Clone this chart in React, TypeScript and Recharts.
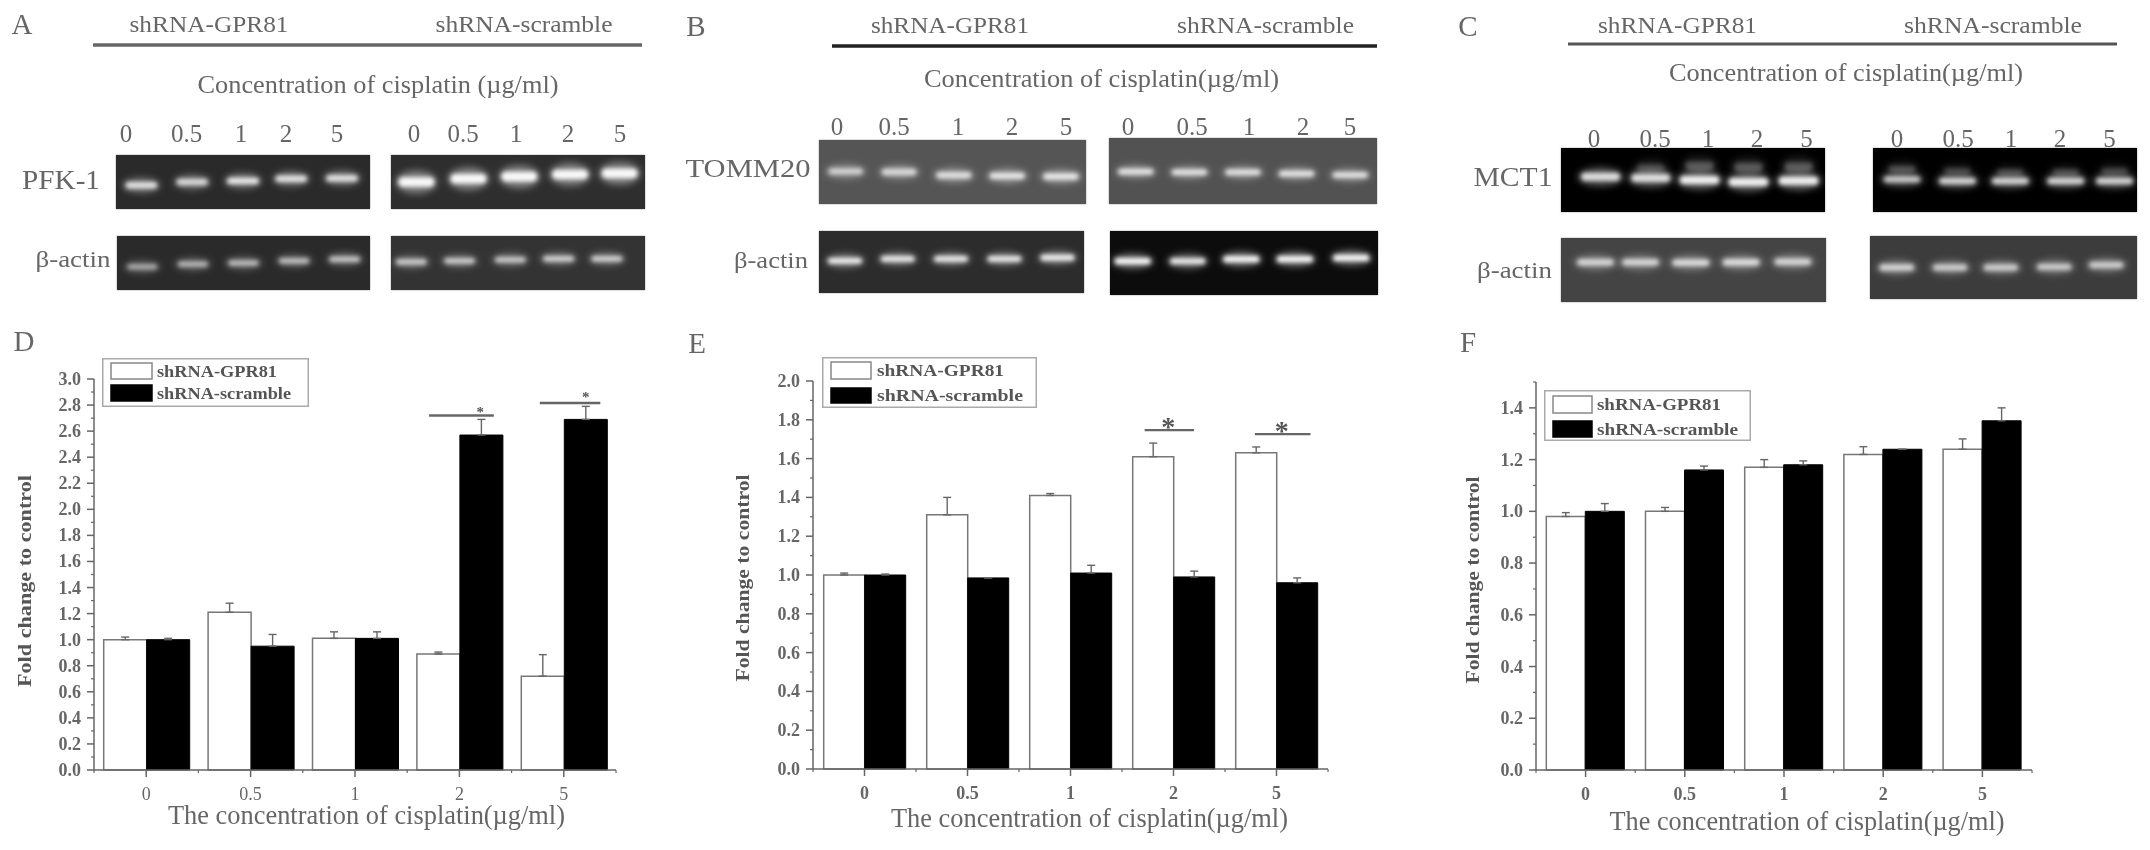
import React from "react";
import {
  BarChart, Bar, XAxis, YAxis, ErrorBar, Legend, Label, ReferenceLine, ReferenceDot,
  ScatterChart, Scatter,
} from "recharts";

const SERIF = "'Liberation Serif', serif";
const INK = "#666";

// ---------- data ----------
const categories = ["0", "0.5", "1", "2", "5"];
const SERIES_A = "shRNA-GPR81";
const SERIES_B = "shRNA-scramble";
const X_TITLE = "The concentration of cisplatin(µg/ml)";
const Y_TITLE = "Fold change to control";

const dGpr = [1.0, 1.21, 1.01, 0.89, 0.72];
const dGprErr = [0.02, 0.07, 0.05, 0.015, 0.165];
const dScr = [1.0, 0.95, 1.01, 2.57, 2.69];
const dScrErr = [0.01, 0.09, 0.05, 0.12, 0.1];
const dTicks = [0, 0.1, 0.2, 0.3, 0.4, 0.5, 0.6, 0.7, 0.8, 0.9, 1, 1.1, 1.2, 1.3, 1.4, 1.5, 1.6, 1.7, 1.8, 1.9, 2, 2.1, 2.2, 2.3, 2.4, 2.5, 2.6, 2.7, 2.8, 2.9, 3];

const eGpr = [1.0, 1.31, 1.41, 1.61, 1.63];
const eGprErr = [0.01, 0.09, 0.01, 0.07, 0.03];
const eScr = [1.0, 0.985, 1.01, 0.99, 0.96];
const eScrErr = [0.005, 0, 0.04, 0.03, 0.025];
const eTicks = [0, 0.1, 0.2, 0.3, 0.4, 0.5, 0.6, 0.7, 0.8, 0.9, 1, 1.1, 1.2, 1.3, 1.4, 1.5, 1.6, 1.7, 1.8, 1.9, 2];

const fGpr = [0.98, 1.0, 1.17, 1.22, 1.24];
const fGprErr = [0.015, 0.015, 0.03, 0.03, 0.04];
const fScr = [1.0, 1.16, 1.18, 1.24, 1.35];
const fScrErr = [0.03, 0.015, 0.015, 0, 0.05];
const fTicks = [0, 0.1, 0.2, 0.3, 0.4, 0.5, 0.6, 0.7, 0.8, 0.9, 1, 1.1, 1.2, 1.3, 1.4, 1.5];

// significance bars on a 0-5 group scale
const dSig = [{ from: 3.21, to: 3.83, y: 2.72, sx: 3.7, sy: 2.77 }, { from: 4.27, to: 4.85, y: 2.816, sx: 4.71, sy: 2.88 }];
const eSig = [{ from: 3.22, to: 3.7, y: 1.747, sx: 3.45, sy: 1.79 }, { from: 4.29, to: 4.83, y: 1.726, sx: 4.55, sy: 1.77 }];

// gel bands: lane position (% of gel width), migration (% of gel height), signal 0-1
const pfkG = { lane: [10, 30, 50, 69, 89], depth: [56, 50, 48, 44, 43], signal: [0.8, 0.75, 0.85, 0.8, 0.8] };
const pfkS = { lane: [10, 30.5, 50.5, 70.5, 90], depth: [50, 44, 40, 36, 34], signal: [0.95, 0.95, 0.95, 0.95, 0.95] };
const actAG = { lane: [10, 30, 50, 70, 90], depth: [57, 52, 50, 46, 43], signal: [0.5, 0.55, 0.6, 0.6, 0.65] };
const actAS = { lane: [8, 27, 47, 66, 85], depth: [48, 46, 44, 42, 42], signal: [0.65, 0.65, 0.65, 0.7, 0.7] };
const tomG = { lane: [10, 30, 50.5, 70.5, 90.6], depth: [49, 50, 55, 56, 57], signal: [0.65, 0.7, 0.75, 0.8, 0.8] };
const tomS = { lane: [10, 30, 50, 70, 90], depth: [51, 52, 52, 54, 56], signal: [0.8, 0.8, 0.8, 0.8, 0.8] };
const actBG = { lane: [9.8, 29.7, 49.8, 70, 90], depth: [48, 45, 45, 45, 43], signal: [0.9, 0.85, 0.85, 0.85, 0.9] };
const actBS = { lane: [8.5, 29, 49, 69, 90], depth: [47, 47, 44, 44, 42], signal: [0.95, 0.85, 0.95, 0.95, 0.95] };
const mctG = { lane: [15, 34, 52.5, 71, 90], depth: [45, 47, 50, 53, 51], signal: [0.8, 0.8, 0.9, 0.9, 0.9] };
const mctS = { lane: [11, 32, 52, 73, 91.5], depth: [49, 51.5, 51.5, 51.5, 51.5], signal: [0.7, 0.75, 0.75, 0.75, 0.75] };
const mctGFaint = { lane: [34, 52.5, 71, 90], depth: [31, 28, 30, 29], signal: [0.2, 0.3, 0.3, 0.3] };
const mctSFaint = { lane: [11, 32, 52, 73, 91.5], depth: [33, 36, 38, 38, 36], signal: [0.25, 0.2, 0.2, 0.2, 0.2] };
const actCG = { lane: [13, 30, 49, 68, 87.5], depth: [38, 38, 38.5, 38, 37], signal: [0.7, 0.7, 0.75, 0.75, 0.7] };
const actCS = { lane: [10, 30, 49, 69, 88.5], depth: [50, 50, 50, 49, 46], signal: [0.7, 0.65, 0.65, 0.65, 0.65] };

// ---------- helpers ----------
type TProps = { x: number; y: number; size: number; len?: number; bold?: boolean; anchor?: string; fill?: string; children: any; rotate?: boolean };
const T = ({ x, y, size, len, bold, anchor = "middle", fill = INK, children, rotate }: TProps) => (
  <text
    x={x}
    y={y}
    fontFamily={SERIF}
    fontSize={size}
    fontWeight={bold ? 700 : 400}
    fill={fill}
    textAnchor={anchor as any}
    dominantBaseline="central"
    textLength={len}
    lengthAdjust={len ? "spacingAndGlyphs" : undefined}
    transform={rotate ? `rotate(-90 ${x} ${y})` : undefined}
  >
    {children}
  </text>
);

const bandShape = (rx: number, ry: number, core: string) => (p: any) => {
  const s = p.payload.signal;
  const coreW = rx * (0.8 + s * 0.15);
  const coreH = ry * 0.8;
  return (
    <g>
      <ellipse cx={p.cx} cy={p.cy} rx={rx * 1.1} ry={ry * 1.9} fill={core} opacity={s * 0.42} style={{ filter: "blur(3.5px)" }} />
      <rect x={p.cx - coreW} y={p.cy - coreH} width={coreW * 2} height={coreH * 2} rx={coreH} ry={coreH} fill={core} opacity={s} style={{ filter: "blur(2px)" }} />
    </g>
  );
};

const toBands = (g: { lane: number[]; depth: number[]; signal: number[] }) =>
  g.lane.map((lane, i) => ({ lane, depth: g.depth[i], signal: g.signal[i] }));

type GelProps = { x: number; y: number; w: number; h: number; bg: string; bands: any; faint?: any; rx?: number; ry?: number };
const Gel = ({ x, y, w, h, bg, bands, faint, rx = 13, ry = 4.5 }: GelProps) => (
  <div style={{ position: "absolute", left: x, top: y, width: w, height: h, background: bg, overflow: "hidden", boxShadow: "0 0 1.5px #888" }}>
    <ScatterChart width={w} height={h} margin={{ top: 0, right: 0, bottom: 0, left: 0 }}>
      <XAxis type="number" dataKey="lane" domain={[0, 100]} hide />
      <YAxis type="number" dataKey="depth" domain={[0, 100]} reversed hide />
      {faint ? <Scatter data={toBands(faint)} shape={bandShape(rx * 0.8, ry * 1.1, "#ddd")} isAnimationActive={false} /> : null}
      <Scatter data={toBands(bands)} shape={bandShape(rx, ry, "#fff")} isAnimationActive={false} />
    </ScatterChart>
  </div>
);

const Lanes = ({ xs, y, size }: { xs: number[]; y: number; size: number }) => (
  <>
    {categories.concat(categories).map((c, i) => (
      <T key={i} x={xs[i]} y={y} size={size}>{c}</T>
    ))}
  </>
);

type ChartCfg = {
  left: number; top: number; width: number; height: number;
  axisL: number; axisR: number; yTop: number; yBot: number;
  domainMax: number; ticks: number[];
  gpr: number[]; gprErr: number[]; scr: number[]; scrErr: number[];
  sig?: { from: number; to: number; y: number; sx: number; sy: number }[];
  starSize?: number; gap: number; tickBold: boolean;
  xt: { x: number; y: number; len: number }; yt: { x: number; y: number; len: number };
  lg: { x: number; y: number; w: number; h: number; swX: number; swW: number; rows: number[][]; textX: number; lens: number[] };
};

const PanelChart = ({ c }: { c: ChartCfg }) => {
  const rows = categories.map((cat, i) => ({
    cat,
    slot: i,
    gpr: c.gpr[i],
    scr: c.scr[i],
    gprErr: [0, c.gprErr[i]],
    scrErr: [0, c.scrErr[i]],
  }));
  const bw = (c.axisR - c.axisL) / categories.length;
  const axisX = c.axisL - c.left;
  const axisY = c.yBot - c.top;
  const xTick = (p: any) => {
    const idx = p.index;
    return (
      <g>
        <line x1={p.x} x2={p.x} y1={axisY} y2={axisY + 7} stroke={INK} strokeWidth={1.5} />
        <line x1={p.x - bw / 2} x2={p.x - bw / 2} y1={axisY} y2={axisY + 3} stroke={INK} strokeWidth={1.2} />
        {idx === categories.length - 1 ? <line x1={p.x + bw / 2} x2={p.x + bw / 2} y1={axisY} y2={axisY + 3} stroke={INK} strokeWidth={1.2} /> : null}
        <T x={p.x} y={axisY + 24} size={18} bold={c.tickBold}>{p.payload.value}</T>
      </g>
    );
  };
  const yTick = (p: any) => {
    const v = p.payload.value;
    const major = Math.round(v * 10) % 2 === 0;
    return (
      <g>
        <line x1={axisX - (major ? 7 : 3)} x2={axisX} y1={p.y} y2={p.y} stroke={INK} strokeWidth={major ? 1.5 : 1.2} />
        {major ? <T x={axisX - 13} y={p.y} size={18} bold anchor="end">{v.toFixed(1)}</T> : null}
      </g>
    );
  };
  const legend = (p: any) => (
    <svg width={c.lg.w} height={c.lg.h} style={{ display: "block" }}>
      <rect x={0.75} y={0.75} width={c.lg.w - 1.5} height={c.lg.h - 1.5} fill="#fff" stroke="#aaa" strokeWidth={1.5} />
      {p.payload.map((e: any, i: number) => (
        <g key={i}>
          <rect x={c.lg.swX} y={c.lg.rows[i][0]} width={c.lg.swW} height={c.lg.rows[i][1]} fill={e.color === "#fff" ? "#fff" : "#000"} stroke={e.color === "#fff" ? "#888" : "#000"} strokeWidth={1.5} />
          <T x={c.lg.textX} y={c.lg.rows[i][0] + c.lg.rows[i][1] / 2} size={16} bold anchor="start" len={c.lg.lens[i]} fill="#555">{e.value}</T>
        </g>
      ))}
    </svg>
  );
  return (
    <div style={{ position: "absolute", left: c.left, top: c.top }}>
      <BarChart
        width={c.width}
        height={c.height}
        data={rows}
        barGap={0}
        barCategoryGap={c.gap}
        margin={{ top: c.yTop - c.top, left: axisX - 60, right: c.left + c.width - c.axisR, bottom: c.top + c.height - c.yBot - 50 }}
      >
        <XAxis dataKey="cat" height={50} interval={0} axisLine={{ stroke: INK, strokeWidth: 1.5 }} tickLine={false} tick={xTick}>
          <Label content={() => <T x={c.xt.x - c.left} y={c.xt.y - c.top} size={27} len={c.xt.len}>{X_TITLE}</T>} />
        </XAxis>
        <XAxis xAxisId="group" dataKey="slot" type="number" domain={[0, 5]} allowDataOverflow hide />
        <YAxis width={60} domain={[0, c.domainMax]} ticks={c.ticks} interval={0} axisLine={{ stroke: INK, strokeWidth: 1.5 }} tickLine={false} tick={yTick}>
          <Label content={() => <T x={c.yt.x - c.left} y={c.yt.y - c.top} size={19} bold len={c.yt.len} rotate fill="#555">{Y_TITLE}</T>} />
        </YAxis>
        <Legend
          layout="horizontal"
          verticalAlign="middle"
          align="center"
          width={c.lg.w}
          wrapperStyle={{ left: c.lg.x - c.left, top: c.lg.y - c.top, width: c.lg.w, height: c.lg.h }}
          content={legend}
        />
        <Bar dataKey="gpr" name={SERIES_A} fill="#fff" stroke="#777" strokeWidth={1.5} isAnimationActive={false}>
          <ErrorBar dataKey="gprErr" direction="y" width={4} stroke={INK} strokeWidth={1.4} isAnimationActive={false} />
        </Bar>
        <Bar dataKey="scr" name={SERIES_B} fill="#000" stroke="#000" strokeWidth={1} isAnimationActive={false}>
          <ErrorBar dataKey="scrErr" direction="y" width={4} stroke={INK} strokeWidth={1.4} isAnimationActive={false} />
        </Bar>
        {(c.sig || []).map((s, i) => (
          <ReferenceLine key={i} xAxisId="group" ifOverflow="visible" stroke="#666" strokeWidth={2.4} segment={[{ x: s.from, y: s.y }, { x: s.to, y: s.y }]} />
        ))}
        {(c.sig || []).map((s, i) => (
          <ReferenceDot
            key={"s" + i}
            xAxisId="group"
            x={s.sx}
            y={s.sy}
            r={0}
            ifOverflow="visible"
            stroke="none"
            label={{ value: "*", position: "center", fontFamily: SERIF, fontWeight: 700, fontSize: c.starSize, fill: "#555", dy: (c.starSize || 0) * 0.15 }}
          />
        ))}
      </BarChart>
    </div>
  );
};

const charts: ChartCfg[] = [
  {
    left: 0, top: 340, width: 680, height: 510, axisL: 94, axisR: 616, yTop: 379, yBot: 770,
    domainMax: 3, ticks: dTicks, gpr: dGpr, gprErr: dGprErr, scr: dScr, scrErr: dScrErr, sig: dSig, starSize: 15,
    gap: 9.7, tickBold: false,
    xt: { x: 366.5, y: 815, len: 397 }, yt: { x: 24, y: 581, len: 212 },
    lg: { x: 102, y: 358, w: 207, h: 49, swX: 9, swW: 41, rows: [[5, 16], [27, 16]], textX: 55, lens: [120, 134] },
  },
  {
    left: 680, top: 340, width: 700, height: 510, axisL: 813, axisR: 1328, yTop: 381, yBot: 769,
    domainMax: 2, ticks: eTicks, gpr: eGpr, gprErr: eGprErr, scr: eScr, scrErr: eScrErr, sig: eSig, starSize: 28,
    gap: 10.7, tickBold: true,
    xt: { x: 1089.5, y: 818, len: 397 }, yt: { x: 742.5, y: 578, len: 207 },
    lg: { x: 822, y: 357, w: 215, h: 51, swX: 9, swW: 40, rows: [[5, 17], [31, 15]], textX: 55, lens: [127, 146] },
  },
  {
    left: 1430, top: 340, width: 700, height: 510, axisL: 1536, axisR: 2032, yTop: 382, yBot: 770,
    domainMax: 1.5, ticks: fTicks, gpr: fGpr, gprErr: fGprErr, scr: fScr, scrErr: fScrErr,
    gap: 10.3, tickBold: true,
    xt: { x: 1807, y: 821, len: 395 }, yt: { x: 1472, y: 580, len: 207 },
    lg: { x: 1544, y: 390, w: 207, h: 51, swX: 9, swW: 39, rows: [[6, 17], [31, 16]], textX: 53, lens: [124, 141] },
  },
];

export default function App() {
  return (
    <div style={{ position: "absolute", left: 0, top: 0, width: 2150, height: 850, background: "#fff", overflow: "hidden", filter: "blur(0.7px)" }}>
      <Gel x={116} y={155} w={254} h={54} bg="#2a2a2a" bands={pfkG} rx={17} ry={4} />
      <Gel x={391} y={155} w={254} h={54} bg="#2e2e2e" bands={pfkS} rx={19} ry={6} />
      <Gel x={117} y={236} w={253} h={54} bg="#2a2a2a" bands={actAG} rx={17} ry={3.5} />
      <Gel x={391} y={236} w={254} h={54} bg="#333" bands={actAS} rx={17} ry={3.5} />

      <Gel x={819} y={140} w={267} h={64} bg="#555" bands={tomG} rx={19} ry={4} />
      <Gel x={1109} y={138} w={268} h={66} bg="#525252" bands={tomS} rx={19} ry={3.5} />
      <Gel x={819} y={231} w={265} h={62} bg="#2c2c2c" bands={actBG} rx={18} ry={3.5} />
      <Gel x={1110} y={231} w={268} h={64} bg="#0c0c0c" bands={actBS} rx={19} ry={4} />

      <Gel x={1561} y={148} w={264} h={64} bg="#000" bands={mctG} faint={mctGFaint} rx={21} ry={5} />
      <Gel x={1873} y={148} w={264} h={64} bg="#000" bands={mctS} faint={mctSFaint} rx={20} ry={4} />
      <Gel x={1561} y={238} w={265} h={64} bg="#444" bands={actCG} rx={20} ry={4} />
      <Gel x={1870} y={236} w={267} h={63} bg="#3c3c3c" bands={actCS} rx={19} ry={4} />

      {charts.map((c, i) => <PanelChart key={i} c={c} />)}

      <svg width={2150} height={850} style={{ position: "absolute", left: 0, top: 0, pointerEvents: "none" }}>
        <T x={22} y={24} size={29}>A</T>
        <T x={696} y={26} size={29}>B</T>
        <T x={1468} y={26} size={29}>C</T>
        <T x={24} y={341} size={29}>D</T>
        <T x={697} y={343} size={29}>E</T>
        <T x={1468} y={342} size={29}>F</T>

        <T x={209} y={24} size={24} len={159}>{SERIES_A}</T>
        <T x={524} y={24} size={24} len={177}>{SERIES_B}</T>
        <line x1={93} x2={642} y1={45} y2={45} stroke="#666" strokeWidth={3.5} />
        <T x={378} y={84} size={25} len={361}>Concentration of cisplatin (µg/ml)</T>
        <Lanes xs={[126, 186.5, 241, 286, 337, 414, 463, 516, 568, 620]} y={133} size={25} />
        <T x={61} y={179} size={28} len={78}>PFK-1</T>
        <T x={73} y={259} size={24} len={75}>β-actin</T>

        <T x={950} y={25} size={24} len={158}>{SERIES_A}</T>
        <T x={1265.5} y={25} size={24} len={177}>{SERIES_B}</T>
        <line x1={832} x2={1377} y1={46} y2={46} stroke="#222" strokeWidth={3.5} />
        <T x={1101.5} y={78} size={25} len={355}>Concentration of cisplatin(µg/ml)</T>
        <Lanes xs={[837, 894, 958, 1012, 1066, 1128, 1192, 1249, 1303, 1350]} y={126} size={25} />
        <T x={748} y={168} size={26} len={125}>TOMM20</T>
        <T x={771} y={260} size={24} len={74}>β-actin</T>

        <T x={1677.5} y={25} size={24} len={159}>{SERIES_A}</T>
        <T x={1993} y={25} size={24} len={178}>{SERIES_B}</T>
        <line x1={1568} x2={2117} y1={44} y2={44} stroke="#555" strokeWidth={3} />
        <T x={1846} y={72} size={25} len={354}>Concentration of cisplatin(µg/ml)</T>
        <Lanes xs={[1594, 1655, 1708, 1757, 1806.5, 1897, 1958, 2011, 2060, 2109.5]} y={138} size={25} />
        <T x={1513} y={177} size={27} len={79}>MCT1</T>
        <T x={1514.5} y={270} size={24} len={75}>β-actin</T>
      </svg>
    </div>
  );
}
